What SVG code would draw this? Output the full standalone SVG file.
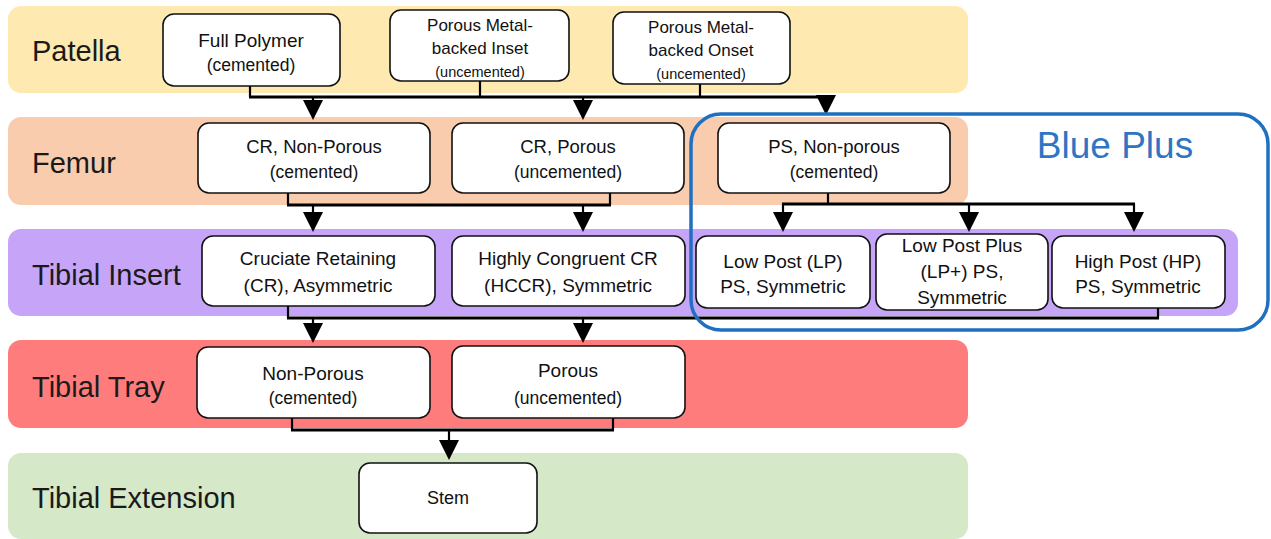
<svg xmlns="http://www.w3.org/2000/svg" width="1271" height="539" viewBox="0 0 1271 539">
<defs>
<style>
.band-label{font-family:"Liberation Sans",Arial,sans-serif;font-size:29px;fill:#1a1a1a}
.node rect{fill:#fff;stroke:#111;stroke-width:1.6}
.t{font-family:"Liberation Sans",Arial,sans-serif;font-size:18.5px;fill:#111;text-anchor:middle}
.s{font-size:14.5px}
.conn{fill:none;stroke:#000;stroke-width:3}
.stem{fill:none;stroke:#000;stroke-width:2.2}
</style>
<marker id="arr" viewBox="0 0 10 10" refX="6" refY="5" markerWidth="23" markerHeight="20" markerUnits="userSpaceOnUse" orient="auto">
<path d="M0,0 L10,5 L0,10 z" fill="#000"/>
</marker>
</defs>
<rect width="1271" height="539" fill="#fff"/>

<g id="band-patella"><rect x="8" y="6" width="960" height="87" rx="13" fill="#FEE9B0"/><text class="band-label" x="32" y="61">Patella</text></g>
<g id="band-femur"><rect x="8" y="117" width="960" height="88" rx="13" fill="#F8CCAD"/><text class="band-label" x="32" y="173">Femur</text></g>
<g id="band-insert"><rect x="8" y="229" width="1230" height="87" rx="13" fill="#C6A5F9"/><text class="band-label" x="32" y="285">Tibial Insert</text></g>
<g id="band-tray"><rect x="8" y="340" width="960" height="88" rx="13" fill="#FF7C7C"/><text class="band-label" x="32" y="397">Tibial Tray</text></g>
<g id="band-extension"><rect x="8" y="453" width="960" height="86" rx="13" fill="#D5E8C8"/><text class="band-label" x="32" y="508">Tibial Extension</text></g>

<g id="connectors">
<path class="stem" d="M250 86 V97 M480 81 V97 M700 84 V97"/>
<path class="conn" d="M249 97 H827"/>
<path class="stem" d="M313 97 V112" marker-end="url(#arr)"/>
<path class="stem" d="M583 97 V112" marker-end="url(#arr)"/>
<path class="stem" d="M826 97 V107" marker-end="url(#arr)"/>

<path class="stem" d="M288 193 V205 M610 193 V205"/>
<path class="conn" d="M287 205 H611"/>
<path class="stem" d="M313 205 V224" marker-end="url(#arr)"/>
<path class="stem" d="M583 205 V224" marker-end="url(#arr)"/>

<path class="stem" d="M828 193 V204"/>
<path class="conn" d="M782 204 H1135"/>
<path class="stem" d="M783 204 V224" marker-end="url(#arr)"/>
<path class="stem" d="M969 204 V224" marker-end="url(#arr)"/>
<path class="stem" d="M1134 204 V224" marker-end="url(#arr)"/>

<path class="stem" d="M288 306 V318 M1158 308 V318"/>
<path class="conn" d="M287 318 H1159"/>
<path class="stem" d="M313 318 V335" marker-end="url(#arr)"/>
<path class="stem" d="M583 318 V335" marker-end="url(#arr)"/>

<path class="stem" d="M292 418 V430 M613 418 V430"/>
<path class="conn" d="M291 430 H614"/>
<path class="stem" d="M449 430 V452" marker-end="url(#arr)"/>
</g>

<g id="n-full-polymer" class="node"><rect x="163" y="14" width="177" height="72" rx="11"/><text class="t" x="251" y="47" style="font-size:19px">Full Polymer</text><text class="t" x="251" y="71" style="font-size:17.5px">(cemented)</text></g>
<g id="n-inset" class="node"><rect x="390" y="10" width="179" height="71" rx="11"/><text class="t" x="480" y="31" style="font-size:17px">Porous Metal-</text><text class="t" x="480" y="54" style="font-size:17px">backed Inset</text><text class="t s" x="480" y="77">(uncemented)</text></g>
<g id="n-onset" class="node"><rect x="613" y="12" width="177" height="72" rx="11"/><text class="t" x="701" y="33" style="font-size:17px">Porous Metal-</text><text class="t" x="701" y="56" style="font-size:17px">backed Onset</text><text class="t s" x="701" y="79">(uncemented)</text></g>

<g id="n-cr-nonporous" class="node"><rect x="198" y="123" width="232" height="70" rx="11"/><text class="t" x="314" y="153">CR, Non-Porous</text><text class="t" x="314" y="178" style="font-size:17.5px">(cemented)</text></g>
<g id="n-cr-porous" class="node"><rect x="452" y="123" width="232" height="70" rx="11"/><text class="t" x="568" y="153">CR, Porous</text><text class="t" x="568" y="178" style="font-size:17.5px">(uncemented)</text></g>
<g id="n-ps-nonporous" class="node"><rect x="718" y="123" width="232" height="70" rx="11"/><text class="t" x="834" y="153">PS, Non-porous</text><text class="t" x="834" y="178" style="font-size:17.5px">(cemented)</text></g>

<g id="n-cr-insert" class="node"><rect x="202" y="236" width="233" height="70" rx="11"/><text class="t" x="318" y="265" style="font-size:19px">Cruciate Retaining</text><text class="t" x="318" y="292" style="font-size:19px">(CR), Asymmetric</text></g>
<g id="n-hccr" class="node"><rect x="452" y="236" width="233" height="70" rx="11"/><text class="t" x="568" y="265" style="font-size:19px">Highly Congruent CR</text><text class="t" x="568" y="292" style="font-size:19px">(HCCR), Symmetric</text></g>
<g id="n-lp" class="node"><rect x="696" y="236" width="174" height="72" rx="11"/><text class="t" x="783" y="268" style="font-size:19px">Low Post (LP)</text><text class="t" x="783" y="293" style="font-size:19px">PS, Symmetric</text></g>
<g id="n-lpplus" class="node"><rect x="876" y="234" width="172" height="76" rx="11"/><text class="t" x="962" y="252" style="font-size:19px">Low Post Plus</text><text class="t" x="962" y="278" style="font-size:19px">(LP+) PS,</text><text class="t" x="962" y="304" style="font-size:19px">Symmetric</text></g>
<g id="n-hp" class="node"><rect x="1052" y="236" width="173" height="72" rx="11"/><text class="t" x="1138" y="268" style="font-size:19px">High Post (HP)</text><text class="t" x="1138" y="293" style="font-size:19px">PS, Symmetric</text></g>

<g id="n-tray-nonporous" class="node"><rect x="197" y="347" width="233" height="71" rx="11"/><text class="t" x="313" y="380" style="font-size:19px">Non-Porous</text><text class="t" x="313" y="404" style="font-size:17.5px">(cemented)</text></g>
<g id="n-tray-porous" class="node"><rect x="452" y="346" width="233" height="72" rx="11"/><text class="t" x="568" y="377" style="font-size:19px">Porous</text><text class="t" x="568" y="404" style="font-size:17.5px">(uncemented)</text></g>

<g id="n-stem" class="node"><rect x="359" y="463" width="178" height="70" rx="11"/><text class="t" x="448" y="504" style="font-size:18px">Stem</text></g>

<g id="blue-plus"><rect x="691" y="114" width="577" height="216" rx="30" fill="none" stroke="#1F70C0" stroke-width="3.5"/><text x="1115" y="158" text-anchor="middle" style="font-family:'Liberation Sans',Arial,sans-serif;font-size:37px;fill:#2E75C4">Blue Plus</text></g>
</svg>
